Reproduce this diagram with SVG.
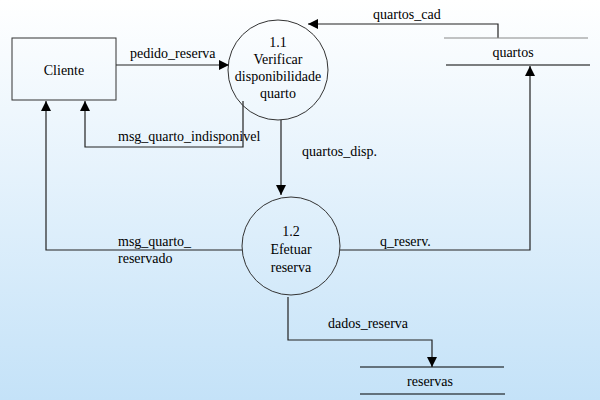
<svg xmlns="http://www.w3.org/2000/svg" width="600" height="400" viewBox="0 0 600 400">
<defs>
<linearGradient id="bg" x1="0" y1="0" x2="0" y2="1">
<stop offset="0" stop-color="#ffffff"/>
<stop offset="1" stop-color="#c4e2f8"/>
</linearGradient>
<marker id="ah" viewBox="0 0 10 10" refX="10" refY="5" markerWidth="10" markerHeight="10" markerUnits="userSpaceOnUse" orient="auto">
<path d="M0,0 L10,5 L0,10 z" fill="#000"/>
</marker>
<style>
.c{text-anchor:middle}
.n{fill:none;stroke:#333;stroke-width:1}
.e{fill:none;stroke:#222;stroke-width:1.2}
.s{stroke:#000;stroke-width:1.2}
text{font-family:Liberation Serif,Times New Roman,DejaVu Serif,serif;font-size:14px}
</style>
</defs>
<rect width="600" height="400" fill="url(#bg)"/>
<g fill="#000">
<g id="connectors">
<path class="e" d="M116,65 H229" marker-end="url(#ah)"/>
<text x="130" y="58">pedido_reserva</text>
<path class="e" d="M243,101 V147 H85 V101" marker-end="url(#ah)"/>
<text x="118" y="141">msg_quarto_indisponivel</text>
<path class="e" d="M242,250 H46 V101" marker-end="url(#ah)"/>
<text x="118" y="246">msg_quarto_</text>
<text x="118" y="263">reservado</text>
<path class="e" d="M281,120 V195" marker-end="url(#ah)"/>
<text x="302" y="156">quartos_disp.</text>
<path class="e" d="M340,250 H530 V66" marker-end="url(#ah)"/>
<text x="380" y="246">q_reserv.</text>
<path class="e" d="M498,38 V24 H308" marker-end="url(#ah)"/>
<text x="373" y="19">quartos_cad</text>
<path class="e" d="M288,297 V340 H432 V367" marker-end="url(#ah)"/>
<text x="328" y="328">dados_reserva</text>
</g>
<g id="cliente">
<rect x="12" y="38" width="104" height="62" class="n" stroke="#000"/>
<text class="c" x="64" y="75">Cliente</text>
</g>
<g id="p11">
<circle cx="278" cy="70" r="50" class="n"/>
<text class="c" x="278" y="47">1.1</text>
<text class="c" x="278" y="64">Verificar</text>
<text class="c" x="278" y="81">disponibilidade</text>
<text class="c" x="278" y="98">quarto</text>
</g>
<g id="p12">
<circle cx="291" cy="246" r="49" class="n"/>
<text class="c" x="291" y="236">1.2</text>
<text class="c" x="291" y="254">Efetuar</text>
<text class="c" x="291" y="272">reserva</text>
</g>
<g id="quartos">
<line x1="444" y1="38" x2="588" y2="38" stroke="#888" stroke-width="1.2"/>
<line x1="446" y1="65" x2="590" y2="65" class="s"/>
<text class="c" x="513" y="57">quartos</text>
</g>
<g id="reservas">
<line x1="360" y1="367" x2="504" y2="367" class="s"/>
<line x1="360" y1="394" x2="505" y2="394" class="s"/>
<text class="c" x="430" y="386">reservas</text>
</g>
</g>
</svg>
